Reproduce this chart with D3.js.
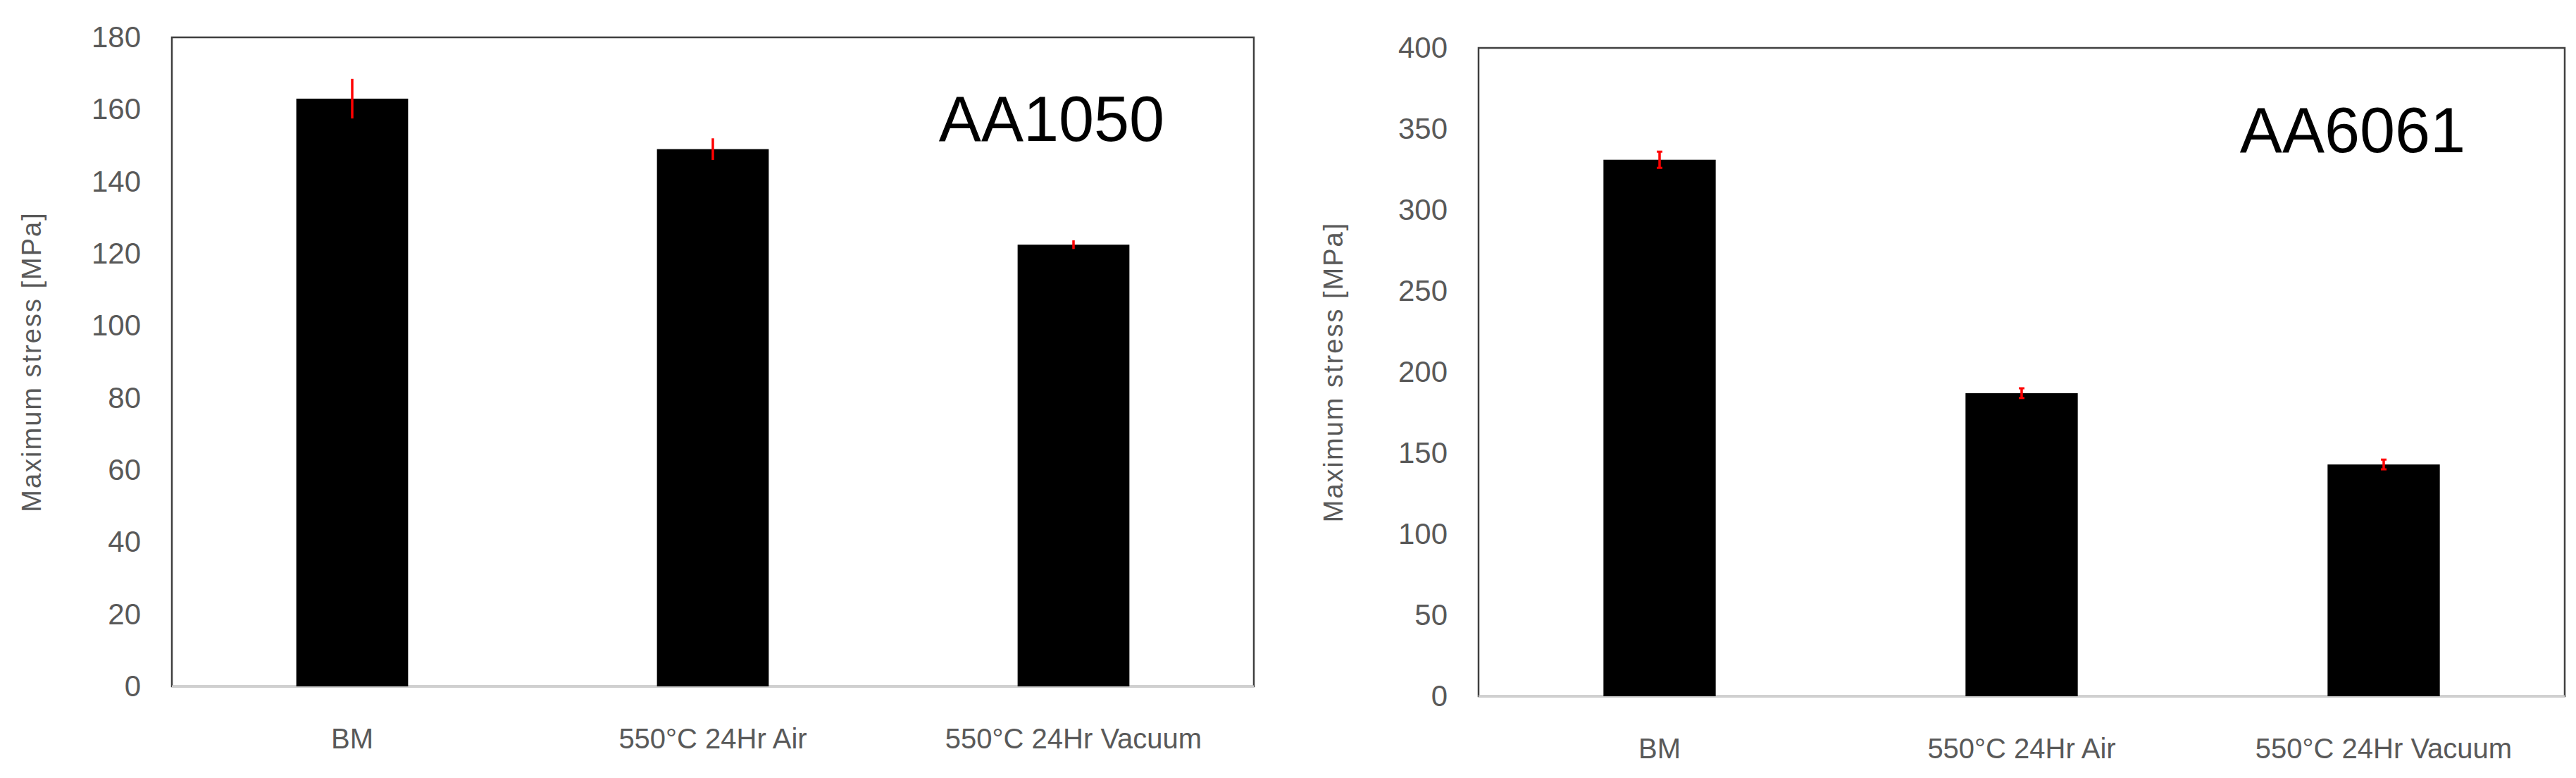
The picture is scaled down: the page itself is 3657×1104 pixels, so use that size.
<!DOCTYPE html>
<html>
  <head>
    <meta charset="utf-8" />
    <script src="https://d3js.org/d3.v7.min.js"></script>
    <style>
      body { margin: 0; background: #fff; }
      text { font-family: "Liberation Sans Narrow", "Liberation Sans", sans-serif; }
    </style>
  </head>
  <body>
    <script>
      var categories = ["BM", "550°C 24Hr Air", "550°C 24Hr Vacuum"];
      var aa1050Values = [163, 149, 122.5];
      var aa1050Errors = [5.5, 3, 1.2];
      var aa1050Ticks = [0, 20, 40, 60, 80, 100, 120, 140, 160, 180];
      var aa6061Values = [331, 187, 143];
      var aa6061Errors = [5, 3, 3];
      var aa6061Ticks = [0, 50, 100, 150, 200, 250, 300, 350, 400];

      var svg = d3.select("body").append("svg")
        .attr("width", 3657).attr("height", 1104);

      // one panel per alloy
      function panel(p) {
        var x = d3.scaleBand().domain(categories).range([p.x0, p.x1]).paddingInner(0.69).paddingOuter(0.345);
        var y = d3.scaleLinear().domain([0, p.max]).range([p.y1, p.y0]);
        var g = svg.append("g");

        g.append("rect").attr("x", p.x0).attr("y", p.y0)
          .attr("width", p.x1 - p.x0).attr("height", p.y1 - p.y0)
          .attr("fill", "none").attr("stroke", "#404040").attr("stroke-width", 2.5);
        g.append("line").attr("x1", p.x0).attr("x2", p.x1).attr("y1", p.y1).attr("y2", p.y1)
          .attr("stroke", "#d0d0d0").attr("stroke-width", 3);

        g.selectAll(".bar").data(p.values).enter().append("rect")
          .attr("x", function (d, i) { return x(categories[i]); })
          .attr("y", function (d) { return y(d); })
          .attr("width", x.bandwidth())
          .attr("height", function (d) { return y(0) - y(d); })
          .attr("fill", "#000");

        var ex = function (i) { return x(categories[i]) + x.bandwidth() / 2; };
        g.selectAll(".err").data(p.values).enter().append("line")
          .attr("x1", function (d, i) { return ex(i); }).attr("x2", function (d, i) { return ex(i); })
          .attr("y1", function (d, i) { return y(d - p.errors[i]); })
          .attr("y2", function (d, i) { return y(d + p.errors[i]); })
          .attr("stroke", "#ff0000").attr("stroke-width", 3.5);
        p.values.forEach(function (d, i) {
          [d - p.errors[i], d + p.errors[i]].forEach(function (v) {
            g.append("line").attr("x1", ex(i) - p.cap).attr("x2", ex(i) + p.cap)
              .attr("y1", y(v)).attr("y2", y(v)).attr("stroke", "#ff0000").attr("stroke-width", 3);
          });
        });

        var ax = g.append("g").attr("transform", "translate(" + (p.x0 - 44) + ",0)")
          .call(d3.axisLeft(y).tickValues(p.ticks).tickSize(0).tickPadding(0));
        ax.select(".domain").remove();
        ax.selectAll("text").attr("font-size", 42).attr("fill", "#595959")
          .attr("font-family", "'Liberation Sans Narrow', 'Liberation Sans', sans-serif");

        g.selectAll(".xl").data(categories).enter().append("text")
          .attr("x", function (d) { return x(d) + x.bandwidth() / 2; })
          .attr("y", p.y1 + 88).attr("text-anchor", "middle")
          .attr("font-size", 40).attr("fill", "#595959").text(function (d) { return d; });

        g.append("text").attr("transform", "translate(" + p.tx + "," + ((p.y0 + p.y1) / 2) + ") rotate(-90)")
          .attr("text-anchor", "middle").attr("font-size", 38).attr("fill", "#595959")
          .style("font-family", "'Liberation Sans', sans-serif").style("letter-spacing", "2px")
          .text("Maximum stress [MPa]");

        g.append("text").attr("x", p.lx).attr("y", p.ly).attr("text-anchor", "middle")
          .attr("font-size", 90).attr("fill", "#000").text(p.label);
      }

      panel({ x0: 244, x1: 1780, y0: 53, y1: 974, max: 180, values: aa1050Values, errors: aa1050Errors,
        ticks: aa1050Ticks, cap: 0, tx: 58, lx: 1493, ly: 200, label: "AA1050" });
      panel({ x0: 2099, x1: 3641, y0: 68, y1: 988, max: 400, values: aa6061Values, errors: aa6061Errors,
        ticks: aa6061Ticks, cap: 4, tx: 1906, lx: 3340, ly: 216, label: "AA6061" });
    </script>
  </body>
</html>
